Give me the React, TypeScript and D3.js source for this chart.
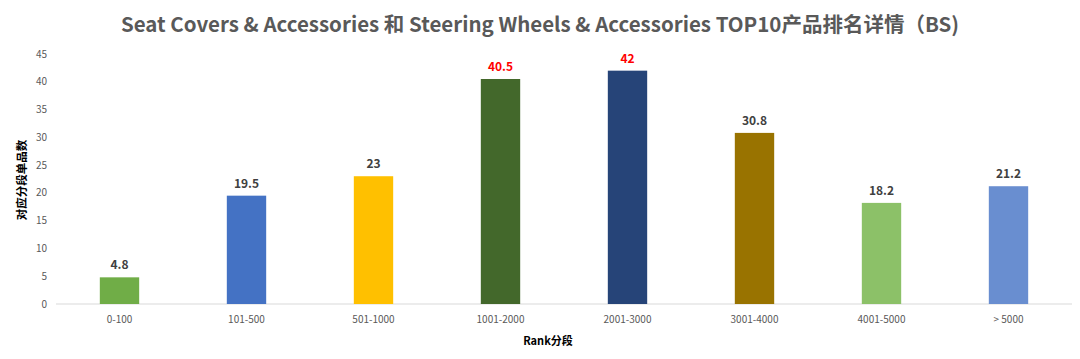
import React from "react";
import * as d3 from "d3";

const categories = ["0-100", "101-500", "501-1000", "1001-2000", "2001-3000", "3001-4000", "4001-5000", "> 5000"];
const values = [4.8, 19.5, 23, 40.5, 42, 30.8, 18.2, 21.2];
const colors = ["#70AD47", "#4472C4", "#FFC000", "#43682B", "#264478", "#997300", "#8CC168", "#698ED0"];
const highlighted = ["1001-2000", "2001-3000"];
const yTicks = [0, 5, 10, 15, 20, 25, 30, 35, 40, 45];
const title = "Seat Covers & Accessories 和 Steering Wheels & Accessories TOP10产品排名详情（BS)";
const xTitle = "Rank分段";
const yTitle = "对应分段单品数";

const W = 1080;
const H = 359;
const FONT = "'Noto Sans CJK SC', 'Noto Sans', sans-serif";

export default function App() {
  const x = d3.scaleBand<string>().domain(categories).range([56, 1072]).paddingInner(0.69).paddingOuter(0.345);
  const y = d3.scaleLinear().domain([0, 45]).range([304, 54]);

  return (
    <svg width={W} height={H} style={{ position: "absolute", left: 0, top: 0, background: "#fff" }} fontFamily={FONT}>
      <text x={540} y={32} textAnchor="middle" fontSize={20.5} fontWeight="bold" fill="#595959">{title}</text>
      {yTicks.map((t) => (
        <text key={t} x={47} y={y(t)} dy="0.35em" textAnchor="end" fontSize={10} fill="#595959">{t}</text>
      ))}
      <line x1={56} x2={1072} y1={y(0)} y2={y(0)} stroke="#D9D9D9" strokeWidth={1} />
      {categories.map((c, i) => (
        <g key={c}>
          <rect x={x(c)} y={y(values[i])} width={x.bandwidth()} height={y(0) - y(values[i])} fill={colors[i]} />
          <text x={(x(c) as number) + x.bandwidth() / 2} y={y(values[i]) - 8} textAnchor="middle" fontSize={12} fontWeight="bold"
            fill={highlighted.includes(c) ? "#FF0000" : "#404040"}>{values[i]}</text>
          <text x={(x(c) as number) + x.bandwidth() / 2} y={y(0) + 15} dy="0.35em" textAnchor="middle" fontSize={10} fill="#595959">{c}</text>
        </g>
      ))}
      <text x={548} y={345} textAnchor="middle" fontSize={11} fontWeight="bold" fill="#000">{xTitle}</text>
      <text transform={`translate(26,180) rotate(-90)`} textAnchor="middle" fontSize={11.5} fontWeight="bold" fill="#000">{yTitle}</text>
    </svg>
  );
}
